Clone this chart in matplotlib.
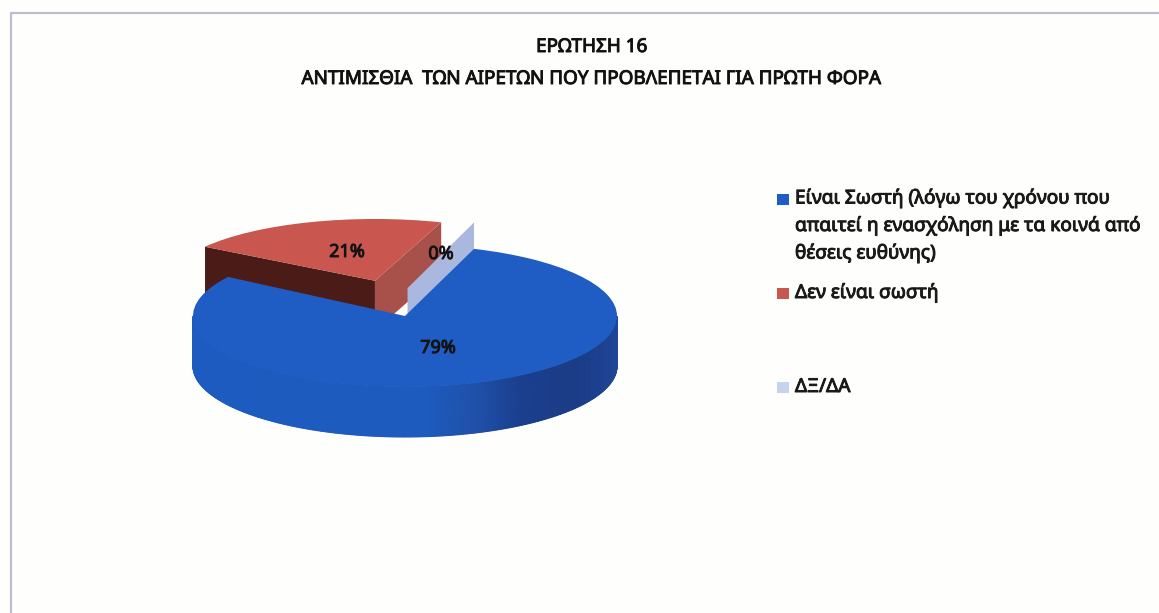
import numpy as np
import matplotlib
matplotlib.use("Agg")
import matplotlib.pyplot as plt
import matplotlib.patheffects as pe
from matplotlib.patches import Polygon, Rectangle
from matplotlib.colors import LinearSegmentedColormap
from matplotlib.transforms import Affine2D

categories = ["Είναι Σωστή (λόγω του χρόνου που\nαπαιτεί η ενασχόληση με τα κοινά από\nθέσεις ευθύνης)",
              "Δεν είναι σωστή", "ΔΞ/ΔΑ"]
values = [79, 21, 0]
pct_labels = ["79%", "21%", "0%"]
colors = ["#1F5CC4", "#C9574F", "#C3D3F0"]
title_lines = ["ΕΡΩΤΗΣΗ 16", "ΑΝΤΙΜΙΣΘΙΑ  ΤΩΝ ΑΙΡΕΤΩΝ ΠΟΥ ΠΡΟΒΛΕΠΕΤΑΙ ΓΙΑ ΠΡΩΤΗ ΦΟΡΑ"]

W, H = 1159, 613
FONT = "Noto Sans"
CX, CY, RX, RY = 405, 316, 212, 71
DEPTH = 50 / RY
BOLD = [pe.withStroke(linewidth=0.7, foreground="#161616")]

fig = plt.figure(figsize=(W / 100, H / 100), dpi=100, facecolor="#FEFEFC")
ax = fig.add_axes([0, 0, 1, 1])
wedges, _ = ax.pie(values, explode=[0, 0.44, 0], startangle=71, counterclock=False,
                   colors=colors, radius=1, center=(0, 0), wedgeprops={"linewidth": 0})
ax.set_aspect("auto")
ax.set_xlim(-CX / RX, (W - CX) / RX)
ax.set_ylim((CY - H) / RY, CY / RY)
ax.set_axis_off()

def pt_x(px): return (px - CX) / RX
def pt_y(py): return (CY - py) / RY

blue, red, zero = wedges

# red slice: slightly foreshortened because it sits farther back
rc = np.array(red.center)
sx, sy, lift_r = 0.96, 0.87, 0.08
red.set_transform(Affine2D().translate(-rc[0], -rc[1]).scale(sx, sy)
                  .translate(rc[0], rc[1] + lift_r) + ax.transData)
apex = rc + [0, lift_r]
for ang in (red.theta1, red.theta2):
    a = np.radians(ang)
    tip = apex + [sx * np.cos(a), sy * np.sin(a)]
    col = "#4B1C17" if np.cos(a) < 0 else "#A8514A"
    ax.add_patch(Polygon([apex, tip, tip - [0, DEPTH], apex - [0, DEPTH]], closed=True,
                         fc=col, ec="none", zorder=2))
red.set_zorder(3)

# zero-sized slice wall, rises above the blue surface
ang0 = np.radians(zero.theta1)
tip0 = np.array([np.cos(ang0), np.sin(ang0)])
lift = 30 / RY
off = 0.012
ax.add_patch(Polygon([[off, -0.03], tip0 - [0, 0.05], tip0 + [0, lift - 0.05], [off, lift - 0.03]],
                     closed=True, fc="#AAB7DE", ec="none", zorder=4))

# blue side band with smooth shading along the rim
stops_x = [-1.0, 0.1, 0.35, 0.55, 0.8, 1.0]
stops_c = ["#1E5BC0", "#1E5BBE", "#1F50A8", "#1B3F8E", "#1B3C86", "#1F4597"]
cmap = LinearSegmentedColormap.from_list("side", list(zip([(s + 1) / 2 for s in stops_x], stops_c)))
ang = np.radians(np.linspace(-180, 0, 361))
X = np.vstack([np.cos(ang), np.cos(ang)])
Y = np.vstack([np.sin(ang), np.sin(ang) - DEPTH])
ax.pcolormesh(X, Y, X, shading="gouraud", cmap=cmap, vmin=-1, vmax=1, zorder=5)
ax.set_xlim(-CX / RX, (W - CX) / RX)
ax.set_ylim((CY - H) / RY, CY / RY)
blue.set_zorder(6)

# data labels
for lab, px, py in zip(pct_labels, (438, 347, 441), (348, 252, 254)):
    ax.text(pt_x(px), pt_y(py), lab, ha="center", va="center", family=FONT,
            fontsize=13, color="#111111", zorder=8, path_effects=BOLD)

# titles
for line, py in zip(title_lines, (47, 79)):
    fig.text(592 / W, 1 - py / H, line, ha="center", va="center", family=FONT,
             fontsize=13.6, color="#111111", path_effects=BOLD)

# legend
leg_y = (199.5, 293, 387)
text_y = (226, 293, 387)
for cat, col, py, ty in zip(categories, colors, leg_y, text_y):
    fig.add_artist(Rectangle((777 / W, 1 - (py + 5.5) / H), 11.5 / W, 11 / H,
                             transform=fig.transFigure, fc=col, ec="none"))
    fig.text(795 / W, 1 - ty / H, cat, ha="left", va="center", family=FONT,
             fontsize=13.7, color="#1a1a1a", linespacing=1.5, path_effects=BOLD)

# outer frame of the scanned chart
frame = "#BBBFCD"
fig.add_artist(plt.Line2D([11 / W, 11 / W, 1], [0, 1 - 13 / H, 1 - 13 / H], color=frame, lw=1.6,
                          transform=fig.transFigure))

fig.savefig("out.png", dpi=100, facecolor=fig.get_facecolor())
